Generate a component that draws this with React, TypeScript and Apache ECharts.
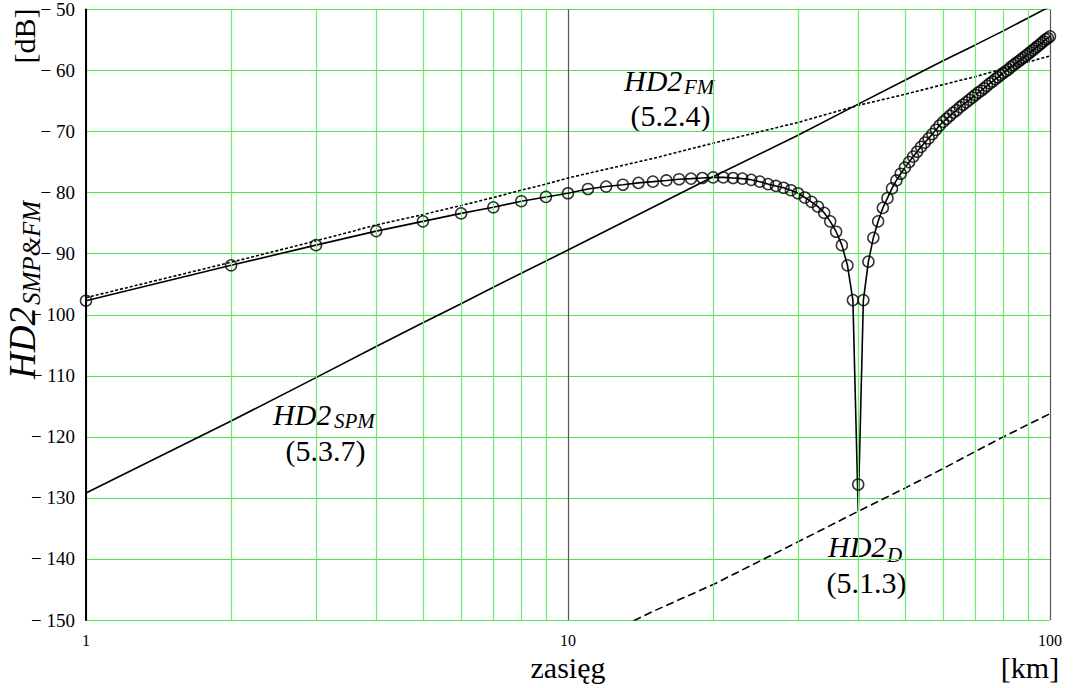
import React, { useEffect, useRef } from "react";
import * as echarts from "echarts";

const SERIF = "Liberation Serif";

// HD2 SMP&FM sampled every 1 km (1..100) – circles
const smpFmKm = [
  1, 2, 3, 4, 5, 6, 7, 8, 9, 10,
  11, 12, 13, 14, 15, 16, 17, 18, 19, 20,
  21, 22, 23, 24, 25, 26, 27, 28, 29, 30,
  31, 32, 33, 34, 35, 36, 37, 38, 39, 40,
  41, 42, 43, 44, 45, 46, 47, 48, 49, 50,
  51, 52, 53, 54, 55, 56, 57, 58, 59, 60,
  61, 62, 63, 64, 65, 66, 67, 68, 69, 70,
  71, 72, 73, 74, 75, 76, 77, 78, 79, 80,
  81, 82, 83, 84, 85, 86, 87, 88, 89, 90,
  91, 92, 93, 94, 95, 96, 97, 98, 99, 100,
];
const smpFmDb = [
  -97.7, -91.9, -88.6, -86.3, -84.7, -83.4, -82.4, -81.4, -80.7, -80.1,
  -79.4, -79.0, -78.7, -78.4, -78.2, -78.0, -77.8, -77.7, -77.6, -77.5,
  -77.5, -77.6, -77.7, -77.9, -78.2, -78.6, -78.9, -79.2, -79.6, -80.1,
  -80.8, -81.5, -82.3, -83.3, -84.7, -86.4, -88.6, -91.9, -97.6, -127.8,
  -97.6, -91.3, -87.4, -84.7, -82.5, -80.9, -79.3, -78.0, -76.9, -75.9,
  -75.0, -74.1, -73.3, -72.5, -71.8, -71.1, -70.4, -69.7, -69.0, -68.4,
  -67.9, -67.4, -66.9, -66.5, -66.0, -65.6, -65.2, -64.8, -64.4, -64.0,
  -63.6, -63.3, -62.9, -62.5, -62.1, -61.8, -61.4, -61.1, -60.7, -60.4,
  -60.1, -59.8, -59.4, -59.1, -58.8, -58.5, -58.2, -57.9, -57.6, -57.3,
  -57.0, -56.7, -56.4, -56.1, -55.8, -55.5, -55.2, -54.9, -54.7, -54.4,
];
// the continuous curve reaches deeper at the notch
const dipKm = 40;
const dipDb = -132.2;

// HD2 FM (5.2.4) – dotted
const fmKm = [1, 2, 3, 4, 5, 6, 7, 8, 9, 10, 15, 20, 30, 40, 50, 60, 70, 80, 90, 100];
const fmDb = [-97.2, -91.4, -87.9, -85.3, -83.6, -82.1, -80.8, -79.6, -78.6, -77.6, -74.4, -71.9, -68.5, -65.7, -63.9, -62.3, -61.0, -59.7, -58.6, -57.6];

// HD2 SPM (5.3.7) – solid
const spmKm = [1, 2, 3, 4, 5, 6, 7, 8, 9, 10, 15, 20, 30, 40, 50, 60, 70, 80, 90, 100];
const spmDb = [-129.2, -117.4, -110.3, -105.2, -101.3, -98.2, -95.5, -93.2, -91.2, -89.4, -82.4, -77.4, -70.6, -65.5, -61.6, -58.4, -55.8, -53.5, -51.4, -49.5];

// HD2 D (5.1.3) – dashed
const dKm = [13, 15, 20, 30, 40, 50, 60, 70, 80, 90, 100];
const dDb = [-151.0, -148.6, -144.2, -137.2, -132.2, -128.4, -125.2, -122.4, -120.0, -118.0, -116.2];

// minor (green) vertical grid lines of the log axis
const minorGridKm = [2, 3, 4, 5, 6, 7, 8, 9, 20, 30, 40, 50, 60, 70, 80, 90];

const Y_MIN = -150;
const Y_MAX = -50;
const Y_STEP = 10;

function txt(text: string, x: number, y: number, size: number, italic: boolean, align: string) {
  const style: any = {
    text,
    fontFamily: SERIF,
    fontSize: size,
    fill: "#000",
    align,
    verticalAlign: "middle",
  };
  if (italic) style.fontStyle = "italic";
  return { type: "text", x, y, silent: true, style };
}

export default function App() {
  const ref = useRef<HTMLDivElement>(null);

  useEffect(() => {
    const chart = echarts.init(ref.current!, null, { renderer: "svg" });

    const lineData = smpFmKm.map((k, i) => [k, k === dipKm ? dipDb : smpFmDb[i]]);

    const option: any = {
      animation: false,
      backgroundColor: "#ffffff",
      grid: { left: 86, right: 26, top: 9, bottom: 68, containLabel: false },
      xAxis: {
        type: "log",
        logBase: 10,
        min: 1,
        max: 100,
        axisLine: { show: false },
        axisTick: { show: false },
        axisLabel: {
          fontFamily: SERIF,
          fontSize: 16,
          color: "#000",
          margin: 12,
          formatter: (v: number) => String(Math.round(v)),
        },
        splitLine: { show: true, lineStyle: { color: "#555", width: 1.2 } },
      },
      yAxis: {
        type: "value",
        min: Y_MIN,
        max: Y_MAX,
        interval: Y_STEP,
        axisLine: { show: true, onZero: false, lineStyle: { color: "#000", width: 2 } },
        axisTick: { show: false },
        axisLabel: {
          fontFamily: SERIF,
          fontSize: 19,
          color: "#000",
          margin: 11,
          padding: [7, 0, 0, 0],
          formatter: (v: number) => (v < 0 ? "\u2212 " + Math.abs(v) : String(v)),
        },
        splitLine: { show: true, lineStyle: { color: "#4ce64c", width: 1.2 } },
      },
      series: [
        {
          name: "grid",
          type: "line",
          data: [],
          z: 1,
          silent: true,
          markLine: {
            silent: true,
            symbol: ["none", "none"],
            label: { show: false },
            lineStyle: { color: "#6cee6c", width: 1.2, type: "solid" },
            data: minorGridKm.map((k) => ({ xAxis: k })),
          },
        },
        {
          name: "HD2 D",
          type: "line",
          z: 3,
          showSymbol: false,
          data: dKm.map((k, i) => [k, dDb[i]]),
          lineStyle: { color: "#000", width: 1.6, type: [8, 4] },
        },
        {
          name: "HD2 SPM",
          type: "line",
          z: 3,
          showSymbol: false,
          data: spmKm.map((k, i) => [k, spmDb[i]]),
          lineStyle: { color: "#000", width: 1.6 },
        },
        {
          name: "HD2 FM",
          type: "line",
          z: 3,
          showSymbol: false,
          data: fmKm.map((k, i) => [k, fmDb[i]]),
          lineStyle: { color: "#000", width: 1.6, type: [3, 2] },
        },
        {
          name: "HD2 SMP&FM line",
          type: "line",
          z: 4,
          showSymbol: false,
          data: lineData,
          lineStyle: { color: "#000", width: 1.6 },
        },
        {
          name: "HD2 SMP&FM",
          type: "scatter",
          z: 5,
          symbol: "circle",
          symbolSize: 11,
          data: smpFmKm.map((k, i) => [k, smpFmDb[i]]),
          itemStyle: { color: "rgba(0,0,0,0)", borderColor: "#000", borderWidth: 1.5 },
        },
      ],
      graphic: [
        {
          type: "text",
          x: 24,
          y: 36,
          rotation: Math.PI / 2,
          silent: true,
          style: {
            text: "[dB]",
            fontFamily: SERIF,
            fontSize: 30,
            fill: "#000",
            align: "center",
            verticalAlign: "middle",
          },
        },
        {
          type: "group",
          x: 22,
          y: 379,
          rotation: Math.PI / 2,
          silent: true,
          children: [
            txt("HD2", 0, 0, 37, true, "left"),
            txt("SMP&FM", 74, 9, 25, true, "left"),
          ],
        },
        txt("HD2", 624, 80.5, 30, true, "left"),
        txt("FM", 684, 87, 21, true, "left"),
        txt("(5.2.4)", 670.5, 115.5, 30, false, "center"),
        txt("HD2", 273, 414.5, 30, true, "left"),
        txt("SPM", 334, 421, 21, true, "left"),
        txt("(5.3.7)", 325.5, 450.5, 30, false, "center"),
        txt("HD2", 828, 546.5, 30, true, "left"),
        txt("D", 887, 554.5, 21, true, "left"),
        txt("(5.1.3)", 866.5, 582, 30, false, "center"),
        txt("zasięg", 568, 667, 30, false, "center"),
        txt("[km]", 1030, 667, 30, false, "center"),
      ],
    };

    chart.setOption(option);
    return () => chart.dispose();
  }, []);

  return (
    <div
      ref={ref}
      style={{ position: "absolute", left: 0, top: 0, width: 1076, height: 688, background: "#fff" }}
    />
  );
}
